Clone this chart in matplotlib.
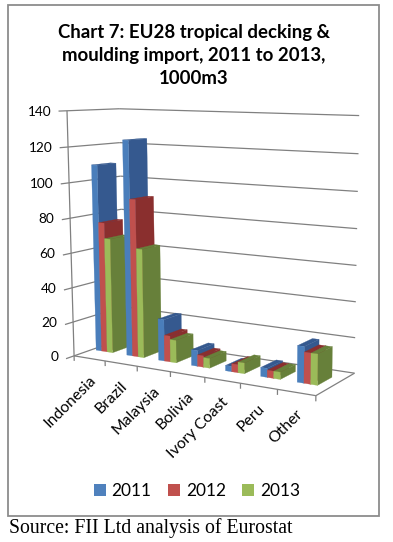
import numpy as np
import matplotlib
matplotlib.use("Agg")
import matplotlib.pyplot as plt
from matplotlib.patches import Patch, Rectangle
from mpl_toolkits.mplot3d import proj3d
from mpl_toolkits.mplot3d.art3d import Line3DCollection

categories = ["Indonesia", "Brazil", "Malaysia", "Bolivia", "Ivory Coast", "Peru", "Other"]
years = ["2011", "2012", "2013"]
v2011 = [109, 124, 24, 9, 3, 5, 20]
v2012 = [76, 91, 15, 6.5, 4.5, 4, 17]
v2013 = [67, 63, 13, 5.5, 6, 4, 17]
yticks = [0, 20, 40, 60, 80, 100, 120, 140]

W, H = 393, 542
front_cols = ["#4a7ebb", "#c0504d", "#9bbb59"]
side_cols = ["#35598f", "#8a2f2e", "#67803a"]
legend_cols = ["#4f81bd", "#c0504d", "#9bbb59"]
GRID = "#808080"
plt.rcParams["font.family"] = ["Lato", "DejaVu Sans"]

# camera calibration: (category position, depth, value) -> picture position
calib = [
    ((0, 0, 0), (72.7, 355.5)), ((7, 0, 0), (317, 396)), ((7, 1, 0), (353, 373)),
    ((0, 1, 0), (125, 340)), ((0, 0, 140), (67.5, 112.7)), ((0, 1, 140), (118, 108)),
    ((7, 1, 140), (360, 115.5)), ((7, 1, 70), (356.5, 247)), ((0, 0, 70), (70.5, 234)),
    ((0, 1, 20), (124, 306)),
]
A = []
for (X, Y, Z), (u, v) in calib:
    v = H - v
    A.append([X, Y, Z, 1, 0, 0, 0, 0, -u * X, -u * Y, -u * Z, -u])
    A.append([0, 0, 0, 0, X, Y, Z, 1, -v * X, -v * Y, -v * Z, -v])
P = np.linalg.svd(np.array(A, float))[2][-1].reshape(3, 4)
P = P / P[2, 3]
M = np.array([P[0], P[1], [0, 1, 0, 0], P[2]])

fig = plt.figure(figsize=(W / 100, H / 100), dpi=100, facecolor="white")
ax = fig.add_axes([0, 0, 1, 1], projection="3d", computed_zorder=False)
ax.set_axis_off()
ax.apply_aspect = lambda position=None: None
ax.get_proj = lambda: M
ax.viewLim.intervalx = (0, W)
ax.viewLim.intervaly = (0, H)


def project(x, y, z):
    u, v, _ = proj3d.proj_transform(x, y, z, M)
    return float(u), float(v)


# walls and floor
segments = []
for t in yticks:
    segments.append([(0, -0.15, t), (0, 1, t)])
    segments.append([(0, 1, t), (7, 1, t)])
    u, v = project(0, 0, t)
    ax.text2D(u - 15.7, v - 1, str(t), transform=ax.transData, ha="right", va="center",
              fontsize=9.8, color="black")
segments.append([(0, 0, 0), (0, 0, 140)])
segments.append([(0, 0, 0), (7, 0, 0)])
segments.append([(7, 0, 0), (7, 1, 0)])
for i in range(8):
    segments.append([(i, 0, 0), (i, 0, -3)])
ax.add_collection3d(Line3DCollection(segments, colors=GRID, linewidths=0.9, zorder=1), autolim=False)

# bars
bar_w = 0.18
bar_x0 = 0.13
y0, y1 = 0.35, 0.72
none = (0, 0, 0, 0)
series = [v2011, v2012, v2013]
z = 10
for c in range(len(categories)):
    for s, vals in enumerate(series):
        faces = [none, side_cols[s], front_cols[s], none, none, side_cols[s]]
        ax.bar3d(c + bar_x0 + s * bar_w, y0, 0, bar_w, y1 - y0, vals[c], color=faces,
                 shade=False, edgecolor=faces, linewidth=0.2, zorder=z)
        z += 1

# category labels
for i, name in enumerate(categories):
    u, v = project(i + 0.5, 0, 0)
    ax.text2D(u + 4, v - 20, name, transform=ax.transData, rotation=45,
              rotation_mode="anchor", ha="right", va="center", fontsize=11.3, color="black")

fig.text(193.5 / W, 1 - 55.5 / H, "Chart 7: EU28 tropical decking &\nmoulding import, 2011 to 2013,\n1000m3",
         ha="center", va="center", fontsize=13.4, fontweight="bold",
         linespacing=1.43, color="black")

handles = [Patch(facecolor=c, edgecolor="none") for c in legend_cols]
fig.legend(handles, years, ncols=3, loc="center", bbox_to_anchor=(197 / W, 1 - 491 / H),
           frameon=False, fontsize=12.4, handlelength=0.68, handleheight=0.72,
           handletextpad=0.35, columnspacing=0.96)

fig.add_artist(Rectangle((8 / W, 1 - 516 / H), 371 / W, 511 / H, transform=fig.transFigure,
                         fill=False, edgecolor="#8c8c8c", linewidth=1.3))
fig.text(9.3 / W, 1 - 528 / H, "Source: FII Ltd analysis of Eurostat", ha="left", va="center",
         fontsize=14.26, family="Liberation Serif", color="black")

fig.savefig("out.png", dpi=100)
